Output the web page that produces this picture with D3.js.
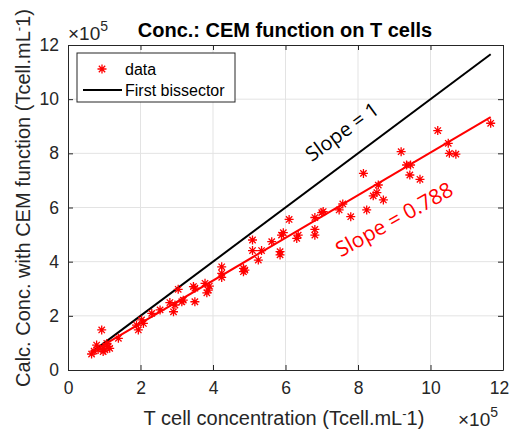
<!DOCTYPE html>
<html>
<head>
<meta charset="utf-8">
<script src="https://cdn.jsdelivr.net/npm/d3@7"></script>
<style>
  body { margin: 0; background: #fff; }
  svg { display: block; font-family: "Liberation Sans", Arial, sans-serif; }
</style>
</head>
<body>
<svg width="512" height="430"></svg>
<script>
// data, units of 1e5 Tcell/mL
const conc = [0.65, 0.72, 0.79, 0.83, 0.93, 0.97, 0.97, 1.02, 1.07, 1.11, 1.15, 1.39,
  1.89, 1.94, 2.03, 2.08, 2.31, 2.54, 2.81, 2.91, 2.95, 3.04, 3.14, 3.18, 3.46, 3.50,
  3.50, 3.78, 3.83, 3.87, 3.90, 4.24, 4.24, 4.24, 4.84, 4.84, 4.88, 5.09, 5.09, 5.25,
  5.34, 5.62, 5.85, 5.85, 5.94, 5.89, 6.10, 6.35, 6.31, 6.81, 6.81, 6.81, 7.00, 7.04,
  7.48, 7.58, 7.80, 8.15, 8.24, 8.42, 8.52, 8.56, 8.70, 9.19, 9.34, 9.45, 9.43, 9.71,
  10.20, 10.49, 10.52, 10.70, 11.66];
const calc = [0.59, 0.70, 0.92, 0.76, 1.48, 0.80, 0.68, 0.74, 0.98, 0.86, 0.80, 1.17,
  1.66, 1.48, 1.85, 1.72, 2.09, 2.22, 2.49, 2.15, 2.40, 2.98, 2.52, 2.58, 3.08, 3.02,
  2.52, 3.20, 2.85, 2.95, 3.10, 3.81, 3.57, 3.42, 3.75, 3.63, 3.69, 4.80, 4.41, 4.06,
  4.41, 4.74, 4.37, 4.25, 5.07, 4.98, 5.56, 4.98, 4.86, 5.63, 5.19, 4.98, 5.81, 5.85,
  5.91, 6.13, 5.66, 7.26, 5.91, 6.43, 6.55, 6.83, 6.28, 8.06, 7.57, 7.57, 7.20, 7.04,
  8.84, 8.37, 8.00, 7.97, 9.11];
const fitSlope = 0.788;
const fitIntercept = 0.15;
const ticks = [0, 2, 4, 6, 8, 10, 12];

const svg = d3.select("svg");
const m = { left: 68, right: 503, top: 45, bottom: 370 };
const x = d3.scaleLinear().domain([0, 12]).range([m.left, m.right]);
const y = d3.scaleLinear().domain([0, 12]).range([m.bottom, m.top]);
const axisColor = "#262626";
const red = "#ff0000";

// grid
const grid = svg.append("g").attr("stroke", "#e3e3e3").attr("stroke-width", 1);
grid.selectAll(".gx").data(ticks.slice(1, -1)).enter().append("line")
  .attr("x1", d => x(d)).attr("x2", d => x(d)).attr("y1", m.top).attr("y2", m.bottom);
grid.selectAll(".gy").data(ticks.slice(1, -1)).enter().append("line")
  .attr("y1", d => y(d)).attr("y2", d => y(d)).attr("x1", m.left).attr("x2", m.right);

// axes (ticks inward, MATLAB-like box)
const styleAxis = g => {
  g.select(".domain").attr("stroke", axisColor);
  g.selectAll(".tick line").attr("stroke", axisColor);
  g.selectAll("text").attr("font-size", 17.5).attr("fill", axisColor)
    .attr("font-family", "Liberation Sans, Arial, sans-serif");
};
const xAxis = svg.append("g").attr("transform", `translate(0,${m.bottom})`)
  .call(d3.axisBottom(x).tickValues(ticks).tickSize(-5).tickPadding(12).tickSizeOuter(0))
  .call(styleAxis);
// keep the last label inside the page
xAxis.selectAll(".tick text").filter(d => d === 12).attr("dx", -4);
svg.append("g").attr("transform", `translate(0,${m.top})`)
  .call(d3.axisTop(x).tickValues(ticks).tickSize(-5).tickFormat("").tickSizeOuter(0))
  .call(styleAxis);
svg.append("g").attr("transform", `translate(${m.left},0)`)
  .call(d3.axisLeft(y).tickValues(ticks).tickSize(-5).tickPadding(9).tickSizeOuter(0))
  .call(styleAxis);
svg.append("g").attr("transform", `translate(${m.right},0)`)
  .call(d3.axisRight(y).tickValues(ticks).tickSize(-5).tickFormat("").tickSizeOuter(0))
  .call(styleAxis);

// lines
const xMin = d3.min(conc), xMax = d3.max(conc);
const line = d3.line().x(d => x(d[0])).y(d => y(d[1]));
svg.append("path")
  .datum([[xMin, xMin], [xMax, xMax]])
  .attr("d", line).attr("stroke", "#000").attr("stroke-width", 2).attr("fill", "none");
svg.append("path")
  .datum([[xMin, fitSlope * xMin + fitIntercept], [xMax, fitSlope * xMax + fitIntercept]])
  .attr("d", line).attr("stroke", red).attr("stroke-width", 2).attr("fill", "none");

// asterisk markers
const starPath = r => {
  const a = r * Math.SQRT1_2;
  return `M${-r},0L${r},0M0,${-r}L0,${r}M${-a},${-a}L${a},${a}M${-a},${a}L${a},${-a}`;
};
svg.append("g").selectAll("path").data(d3.zip(conc, calc)).enter().append("path")
  .attr("transform", d => `translate(${x(d[0])},${y(d[1])})`)
  .attr("d", starPath(4.5)).attr("stroke", red).attr("stroke-width", 1.3).attr("fill", "none");

// slope annotations
svg.append("text").attr("transform", "translate(343,133) rotate(-36)")
  .attr("text-anchor", "middle").attr("dominant-baseline", "middle")
  .attr("font-family", "Open Sans, sans-serif").attr("font-size", 20).attr("fill", "#000")
  .text("Slope = 1");
svg.append("text").attr("transform", "translate(395,221) rotate(-29)")
  .attr("text-anchor", "middle").attr("dominant-baseline", "middle")
  .attr("font-family", "Open Sans, sans-serif").attr("font-size", 21).attr("fill", red)
  .text("Slope = 0.788");

// title
svg.append("text").attr("x", 285).attr("y", 37).attr("text-anchor", "middle")
  .attr("font-size", 20).attr("font-weight", "bold").attr("fill", "#000")
  .text("Conc.: CEM function on T cells");

// exponent labels
const expo = (px, py) => {
  const t = svg.append("text").attr("x", px).attr("y", py).attr("font-size", 19).attr("fill", axisColor);
  t.append("tspan").text("\u00d710");
  t.append("tspan").attr("dy", -9).attr("font-size", 14).text("5");
};
expo(68, 40);
expo(458, 426);

// axis labels
const xl = svg.append("text").attr("x", 284).attr("y", 425).attr("text-anchor", "middle")
  .attr("font-size", 20).attr("fill", axisColor);
xl.append("tspan").text("T cell concentration (Tcell.mL");
xl.append("tspan").attr("dy", -7).attr("font-size", 13).text("-");
xl.append("tspan").attr("dy", 7).text("1)");

const yl = svg.append("text").attr("transform", "translate(30,198) rotate(-90)")
  .attr("text-anchor", "middle").attr("font-size", 20).attr("fill", axisColor);
yl.append("tspan").text("Calc. Conc. with CEM function (Tcell.mL");
yl.append("tspan").attr("dy", -7).attr("font-size", 13).text("-");
yl.append("tspan").attr("dy", 7).text("1)");

// legend
const lg = svg.append("g");
lg.append("rect").attr("x", 77).attr("y", 53).attr("width", 158).attr("height", 49)
  .attr("fill", "#fff").attr("stroke", axisColor).attr("stroke-width", 1);
lg.append("path").attr("transform", "translate(102,69)").attr("d", starPath(4.5))
  .attr("stroke", red).attr("stroke-width", 1.3).attr("fill", "none");
lg.append("line").attr("x1", 83).attr("x2", 122).attr("y1", 90).attr("y2", 90)
  .attr("stroke", "#000").attr("stroke-width", 2);
lg.append("text").attr("x", 125).attr("y", 75).attr("font-size", 16).attr("fill", "#000").text("data");
lg.append("text").attr("x", 125).attr("y", 96).attr("font-size", 16).attr("fill", "#000").text("First bissector");
</script>
</body>
</html>
